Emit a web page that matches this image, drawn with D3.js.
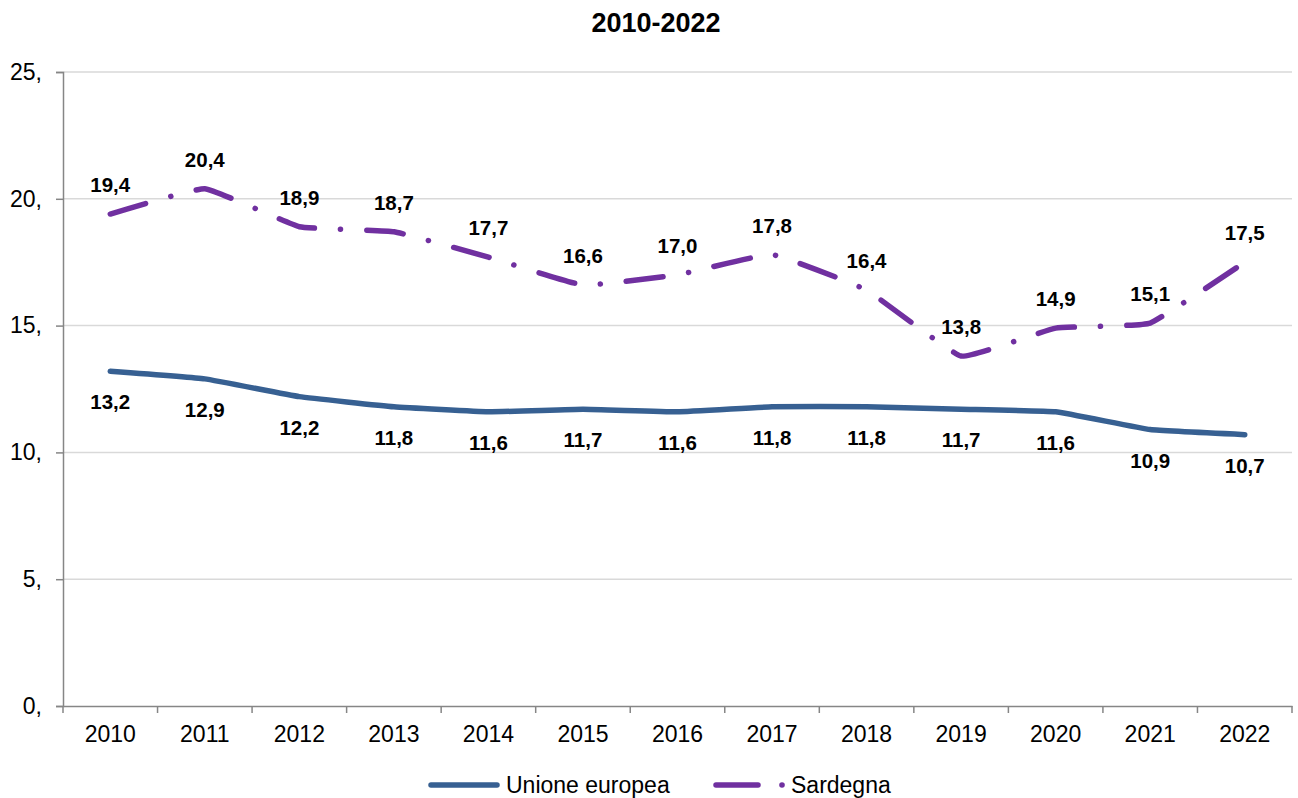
<!DOCTYPE html>
<html>
<head>
<meta charset="utf-8">
<script src="https://cdn.jsdelivr.net/npm/d3@7"></script>
<style>
  html, body { margin: 0; padding: 0; background: #fff; }
  svg { display: block; font-family: "Liberation Sans", Arial, sans-serif; }
</style>
</head>
<body>
<svg id="chart" width="1298" height="798"></svg>
<script>
const title = "2010-2022";
const years = ["2010","2011","2012","2013","2014","2015","2016","2017","2018","2019","2020","2021","2022"];
const euValues = [13.2, 12.9, 12.2, 11.8, 11.6, 11.7, 11.6, 11.8, 11.8, 11.7, 11.6, 10.9, 10.7];
const sardValues = [19.4, 20.4, 18.9, 18.7, 17.7, 16.6, 17.0, 17.8, 16.4, 13.8, 14.9, 15.1, 17.5];
const yTicks = [0, 5, 10, 15, 20, 25];
const yTickLabels = ["0,", "5,", "10,", "15,", "20,", "25,"];
const seriesNames = ["Unione europea", "Sardegna"];

const svg = d3.select("#chart");
const W = 1298, H = 798;
const margin = { left: 63, right: 6, top: 72, bottom: 92 };
const x = d3.scaleBand().domain(years).range([margin.left, W - margin.right]);
const y = d3.scaleLinear().domain([0, 25]).range([H - margin.bottom, margin.top]);

const blue = "#376092", purple = "#7030A0", axisCol = "#868686", gridCol = "#d9d9d9";
const fmt = v => v.toFixed(1).replace(".", ",");

// Title
svg.append("text").attr("x", 656).attr("y", 32).attr("text-anchor", "middle")
  .attr("font-size", 27).attr("font-weight", "bold").attr("fill", "#000").text(title);

// Gridlines
svg.append("g").selectAll("line").data(yTicks.filter(d => d > 0)).join("line")
  .attr("x1", margin.left).attr("x2", W - margin.right)
  .attr("y1", d => y(d)).attr("y2", d => y(d))
  .attr("stroke", gridCol).attr("stroke-width", 1.5);

// Y axis
const yAxis = d3.axisLeft(y).tickValues(yTicks).tickSize(7).tickPadding(14)
  .tickFormat((d, i) => yTickLabels[i]);
const gy = svg.append("g").attr("transform", `translate(${margin.left},0)`).call(yAxis);
gy.select(".domain").attr("stroke", axisCol).attr("stroke-width", 1.5);
gy.selectAll(".tick line").attr("stroke", axisCol).attr("stroke-width", 1.5);
gy.selectAll(".tick text").attr("font-size", 23).attr("fill", "#000")
  .attr("font-family", "'Liberation Sans', Arial, sans-serif");

// X axis
const gx = svg.append("g").attr("transform", `translate(0,${y(0)})`)
  .call(d3.axisBottom(x).tickSize(0).tickPadding(20));
gx.select(".domain").attr("stroke", axisCol).attr("stroke-width", 1.5);
gx.selectAll(".tick text").attr("font-size", 23).attr("fill", "#000")
  .attr("font-family", "'Liberation Sans', Arial, sans-serif");
// tick marks at band boundaries
const bounds = years.map(d => x(d)).concat([x(years[years.length - 1]) + x.bandwidth()]);
svg.append("g").selectAll("line").data(bounds).join("line")
  .attr("x1", d => d).attr("x2", d => d)
  .attr("y1", y(0)).attr("y2", y(0) + 7)
  .attr("stroke", axisCol).attr("stroke-width", 1.5);

const cx = d => x(d) + x.bandwidth() / 2;
const line = d3.line().x((d, i) => cx(years[i])).y(d => y(d)).curve(d3.curveCardinal.tension(0.7));

svg.append("path").datum(euValues).attr("d", line)
  .attr("fill", "none").attr("stroke", blue).attr("stroke-width", 5.5)
  .attr("stroke-linecap", "round").attr("stroke-linejoin", "round");

svg.append("path").datum(sardValues).attr("d", line)
  .attr("fill", "none").attr("stroke", purple).attr("stroke-width", 5.5)
  .attr("stroke-linecap", "round").attr("stroke-linejoin", "round")
  .attr("stroke-dasharray", "37 26 0.1 26");

// Data labels
svg.append("g").selectAll("text").data(euValues).join("text")
  .attr("x", (d, i) => cx(years[i])).attr("y", d => y(d) + 31)
  .attr("dy", "0.35em").attr("text-anchor", "middle")
  .attr("font-size", 20.5).attr("font-weight", "bold").attr("fill", "#000")
  .text(fmt);
svg.append("g").selectAll("text").data(sardValues).join("text")
  .attr("x", (d, i) => cx(years[i])).attr("y", d => y(d) - 29)
  .attr("dy", "0.35em").attr("text-anchor", "middle")
  .attr("font-size", 20.5).attr("font-weight", "bold").attr("fill", "#000")
  .text(fmt);

// Legend
const ly = 785;
const lg = svg.append("g");
lg.append("line").attr("x1", 431).attr("x2", 497).attr("y1", ly).attr("y2", ly)
  .attr("stroke", blue).attr("stroke-width", 5.5).attr("stroke-linecap", "round");
lg.append("text").attr("x", 506).attr("y", ly).attr("dy", "0.35em")
  .attr("font-size", 23).attr("fill", "#000").text(seriesNames[0]);
lg.append("line").attr("x1", 716).attr("x2", 758).attr("y1", ly).attr("y2", ly)
  .attr("stroke", purple).attr("stroke-width", 5.5).attr("stroke-linecap", "round");
lg.append("circle").attr("cx", 782).attr("cy", ly).attr("r", 2.8).attr("fill", purple);
lg.append("text").attr("x", 791).attr("y", ly).attr("dy", "0.35em")
  .attr("font-size", 23).attr("fill", "#000").text(seriesNames[1]);
</script>
</body>
</html>
